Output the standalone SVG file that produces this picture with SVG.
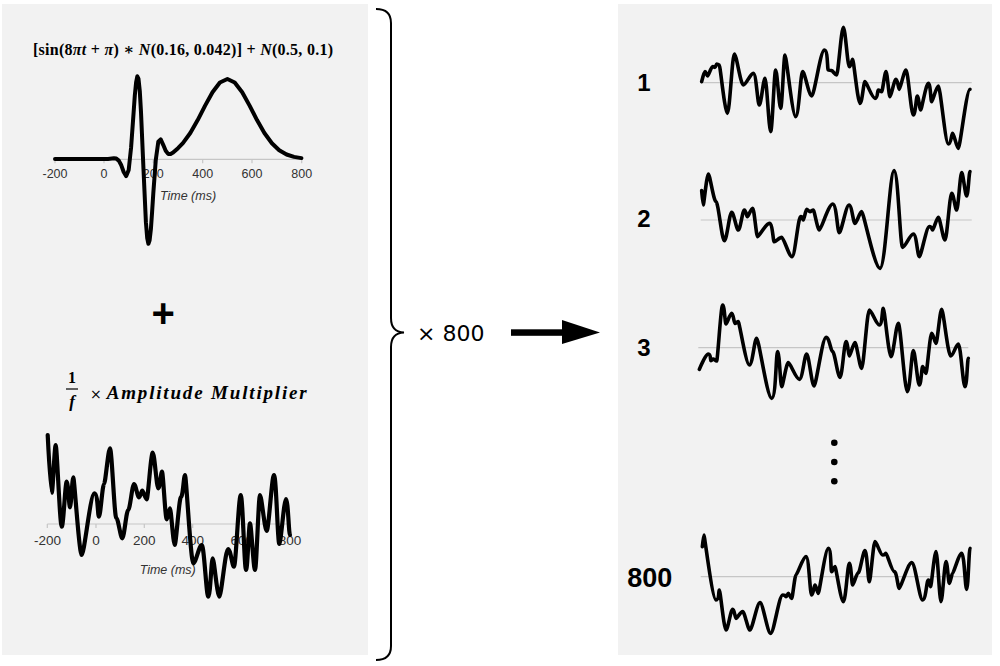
<svg xmlns="http://www.w3.org/2000/svg" width="1000" height="666" viewBox="0 0 1000 666">
<style>
.panel{fill:#f2f2f2}
.axis{stroke:#c6c6c6;stroke-width:1.2;fill:none}
.wave{fill:none;stroke:#000;stroke-linejoin:round;stroke-linecap:round}
.thin{stroke-width:3.6;vector-effect:non-scaling-stroke}
.tick{font-family:"Liberation Sans",Arial,sans-serif;fill:#333;text-anchor:middle}
.time{font-family:"Liberation Sans",Arial,sans-serif;font-style:italic;fill:#333;text-anchor:middle;font-size:12.5px}
.math{font-family:"Liberation Serif","DejaVu Serif",serif;font-weight:bold;fill:#000}
.num{font-family:"Liberation Sans",Arial,sans-serif;font-weight:bold;fill:#000;text-anchor:middle}
</style>
<rect width="1000" height="666" fill="#fff"/>
<g id="left-panel">
<rect class="panel" x="2" y="4" width="366" height="651"/>
<g id="erp-formula">
<text class="math" x="33" y="55" font-size="16" textLength="300" lengthAdjust="spacing">[sin(8<tspan font-style="italic">πt</tspan> +  <tspan font-style="italic">π</tspan>) ∗ <tspan font-style="italic">N</tspan>(0.16, 0.042)]  + <tspan font-style="italic">N</tspan>(0.5, 0.1)</text>
</g>
<g id="erp-chart">
<line class="axis" x1="55" y1="159.3" x2="301.7" y2="159.3"/>
<path class="axis" d="M55,159.3v4M104,159.3v4M153.3,159.3v4M202.7,159.3v4M252,159.3v4M301.7,159.3v4"/>
<g class="tick" font-size="12.5">
<text x="55" y="178">-200</text><text x="104" y="178">0</text><text x="153.3" y="178">200</text><text x="202.7" y="178">400</text><text x="252" y="178">600</text><text x="301.7" y="178">800</text>
</g>
<text class="time" x="188" y="200">Time (ms)</text>
<path class="wave" stroke-width="4" d="M55,159 L108,159 L113.9,158.3 L116.3,158.6 L118.8,160.6 L121.3,165.3 L123.7,172 L126.2,176.1 L128.7,169.9 L131.1,147.4 L133.6,112.6 L134.8,95.6 L136.1,82.5 L137.3,76.3 L138.5,78.9 L139.8,91.1 L141,112.2 L143.5,169.6 L145.9,222.2 L147.2,238 L148.4,243.8 L149.6,240.3 L150.9,229.1 L152.1,211.8 L153.3,193.4 L155.8,159.7 L158.3,141.7 L160.7,139.3 L163.2,144.8 L165.7,150.8 L168.1,153.9 L170.6,154 L173.1,152.6 L178,148.2 L182.9,143.2 L190.3,133 L197.7,120.1 L205.1,105.6 L212.5,92.2 L219.9,82.5 L227.4,79 L234.7,82.5 L242.2,92.2 L249.6,105.6 L257,120.1 L264.4,133 L271.9,143.2 L279.2,150.2 L286.6,154.5 L294,156.9 L301.4,158.1"/>
</g>
<g id="plus">
<text x="163.3" y="327" font-family="Liberation Sans,Arial,sans-serif" font-weight="bold" font-size="40" text-anchor="middle">+</text>
</g>
<g id="noise-formula">
<text class="math" x="72" y="383" font-size="16" text-anchor="middle">1</text>
<line x1="66" y1="389" x2="78" y2="389" stroke="#000" stroke-width="1.2"/>
<text class="math" x="72" y="407" font-size="17" font-style="italic" text-anchor="middle">f</text>
<text x="90" y="399" font-family="DejaVu Sans,sans-serif" font-size="14">×</text>
<text class="math" x="106.7" y="399" font-size="19" font-style="italic" textLength="200" lengthAdjust="spacing">Amplitude Multiplier</text>
</g>
<g id="noise-chart">
<line class="axis" x1="47.3" y1="524" x2="290" y2="524"/>
<path class="axis" d="M47.3,524v4M96,524v4M144.3,524v4M192.7,524v4M241.7,524v4M290,524v4"/>
<g class="tick" font-size="13.5">
<text x="47.5" y="545">-200</text><text x="96" y="545">0</text><text x="144.3" y="545">200</text><text x="192.7" y="545">400</text><text x="241.7" y="545">600</text><text x="290" y="545">800</text>
</g>
<text class="time" x="167.7" y="574">Time (ms)</text>
<path class="wave" stroke-width="4.2" d="M47.7,435 S50.5,492.7 51.7,492.7 S54.5,445 55.7,445 S59.9,526.7 61.7,526.7 S65.2,481.7 66.7,481.7 S69,507.3 70,507.3 S72.3,477.3 73.3,477.3 S79.2,555 81.7,555 S90.5,493.3 94.3,493.3 S97.6,516.7 99,516.7 S102.5,484 104,484 S108.2,448.3 110,448.3 S114.4,518 116.3,518 S120.5,538.3 122.3,538.3 S126.4,510 128.2,510 S132.3,484 134,484 S137.5,497.3 139,497.3 S141.3,490.7 142.3,490.7 S145.4,499.3 146.7,499.3 S150.9,452.7 152.7,452.7 S156.6,488.3 158.3,488.3 S160.9,471.7 162,471.7 S165.3,519.3 166.7,519.3 S169,508.3 170,508.3 S173.3,545 174.7,545 S179.1,497 181,497 S183.8,475 185,475 S190.8,563.3 193.3,563.3 S199.2,545 201.7,545 S206.3,596.7 208.3,596.7 S211.4,558.3 212.7,558.3 S217.3,596.7 219.3,596.7 S225.4,549 228,549 S232.2,566.7 234,566.7 S238.7,495 240.7,495 S244.4,570 246,570 S248.8,523.3 250,523.3 S253.5,570 255,570 S258.5,495 260,495 S264.7,531 266.7,531 S271.8,475 274,475 S277.7,544 279.3,544 S284,499 286,499 S288.8,535 290,535"/>
</g>
</g>
<g id="right-panel">
<rect class="panel" x="618" y="4" width="374" height="651"/>
<g id="trial-1">
<text class="num" x="644" y="91" font-size="24">1</text>
<line class="axis" x1="700.7" y1="82.7" x2="971.7" y2="82.7"/>
<path class="wave thin" transform="translate(610,20) scale(0.33333)" d="M275,185 S282,155 285,155 S290.6,168 293,168 S303.5,140 308,140 S312.9,142 315,142 S318.5,132 320,132 S325.6,135 328,135 S344.8,280 352,280 S366.7,102 373,102 S391.9,195 400,195 S421,160 430,160 S442.6,255 448,255 S459.9,175 465,175 S476.9,335 482,335 S492.5,150 497,150 S507.5,265 512,265 S521.1,105 525,105 S547.4,290 557,290 S571.7,155 578,155 S596.9,228 605,228 S631.6,90 643,90 S651.4,150 655,150 S662,152 665,152 S675.5,165 680,165 S694,22 700,22 S712.6,140 718,140 S725,118 728,118 S743.4,250 750,250 S760.5,185 765,185 S786,235 795,235 S802,210 805,210 S812,215 815,215 S824.1,155 828,155 S836.4,230 840,230 S852.6,178 858,178 S865,208 868,208 S882,150 888,150 S903.4,285 910,285 S918.4,228 922,228 S929,270 932,270 S948.1,190 955,190 S962,245 965,245 S979,198 985,198 S1006,372 1015,372 S1024.1,340 1028,340 S1039.9,385 1045,385 S1069.5,208 1080,208"/>
</g>
<g id="trial-2">
<text class="num" x="644" y="226.7" font-size="24">2</text>
<line class="axis" x1="700.7" y1="220" x2="971.7" y2="220"/>
<path class="wave thin" transform="translate(610,160) scale(0.33333)" d="M275,92 S278.5,135 280,135 S290.5,42 295,42 S311.1,125 318,125 S335.5,242 343,242 S358.4,157 365,157 S379,210 385,210 S397.6,150 403,150 S409.3,170 412,170 S423.2,145 428,145 S438.5,230 443,230 S467.5,190 478,190 S488.5,245 493,245 S508.4,232 515,232 S536.7,290 546,290 S564.2,170 572,170 S577.6,180 580,180 S587,148 590,148 S597,155 600,155 S607,150 610,150 S622.6,210 628,210 S656,132 668,132 S682,218 688,218 S708.3,135 717,135 S729.6,190 735,190 S749,155 755,155 S793.5,325 810,325 S839.4,32 852,32 S870.2,262 878,262 S900.4,222 910,222 S922.6,290 928,290 S949,200 958,200 S965,210 968,210 S979.9,172 985,172 S999,240 1005,240 S1019,100 1025,100 S1035.5,150 1040,150 S1050.5,38 1055,38 S1065.5,108 1070,108 S1077,35 1080,35"/>
</g>
<g id="trial-3">
<text class="num" x="644" y="356" font-size="24">3</text>
<line class="axis" x1="698.3" y1="347.7" x2="968.3" y2="347.7"/>
<path class="wave thin" transform="translate(610,290) scale(0.33333)" d="M268,238 S286.9,192 295,192 S300.6,212 303,212 S307.9,207 310,207 S317,213 320,213 S332.6,45 338,45 S345,102 348,102 S359.9,70 365,70 S372,100 375,100 S382,95 385,95 S408.1,225 418,225 S433.4,145 440,145 S471.5,325 485,325 S497.6,185 503,185 S511.4,290 515,290 S529,218 535,218 S558.1,268 568,268 S583.4,192 590,192 S605.4,288 612,288 S637.2,142 648,142 S662,185 668,185 S683.4,262 690,262 S702.6,155 708,155 S715,198 718,198 S729.9,158 735,158 S749,235 755,235 S771.1,60 778,60 S799,105 808,105 S816.4,55 820,55 S836.1,200 843,200 S858.4,100 865,100 S883.9,305 892,305 S904.6,182 910,182 S922.6,285 928,285 S935,230 938,230 S945,250 948,250 S959.9,130 965,130 S974.1,160 978,160 S989.9,58 995,58 S1013.9,198 1022,198 S1038.1,162 1045,162 S1059,290 1065,290 S1072,205 1075,205"/>
</g>
<g id="ellipsis">
<circle cx="834.3" cy="442.7" r="3.3"/>
<circle cx="834.3" cy="462" r="3.3"/>
<circle cx="834.3" cy="481.3" r="3.3"/>
</g>
<g id="trial-800">
<text class="num" x="649.7" y="586.7" font-size="27">800</text>
<line class="axis" x1="700.7" y1="576.7" x2="970" y2="576.7"/>
<path class="wave thin" transform="translate(610,420) scale(0.33333)" d="M277,380 S280.5,345 282,345 S307.2,540 318,540 S325,510 328,510 S342,630 348,630 S362,568 368,568 S375,595 378,595 S392,575 398,575 S413.4,630 420,630 S441,548 450,548 S472.4,640 482,640 S507.2,525 518,525 S525,530 528,530 S532.9,520 535,520 S542,535 545,535 S554.1,465 558,465 S579,410 588,410 S599.9,525 605,525 S612,495 615,495 S622,520 625,520 S646,385 655,385 S662,455 665,455 S672,440 675,440 S692.5,545 700,545 S712.6,430 718,430 S725,495 728,495 S739.9,458 745,458 S759,392 765,392 S774.1,485 778,485 S789.9,365 795,365 S811.1,405 818,405 S825,400 828,400 S845.5,455 853,455 S863.5,505 868,505 S893.9,428 905,428 S928.1,540 938,540 S949.9,480 955,480 S959.9,500 962,500 S973.2,395 978,395 S988.5,545 993,545 S1003.5,425 1008,425 S1015,490 1018,490 S1025,460 1028,460 S1046.9,400 1055,400 S1065.5,508 1070,508 S1077,385 1080,385"/>
</g>
</g>
<g id="repeat-label">
<text x="417" y="341" font-family="DejaVu Sans,sans-serif" font-size="22" fill="#000">× 800</text>
</g>
<g id="connectors">
<path d="M376,9 Q391,9 391,23 L391,318 Q391,332 404,332.5 Q391,333 391,347 L391,646 Q391,660 376,660" fill="none" stroke="#000" stroke-width="2"/>
<rect x="511" y="329.3" width="52" height="6.5" fill="#000"/>
<polygon points="562,320 600,332.5 562,344" fill="#000"/>
</g>
</svg>
